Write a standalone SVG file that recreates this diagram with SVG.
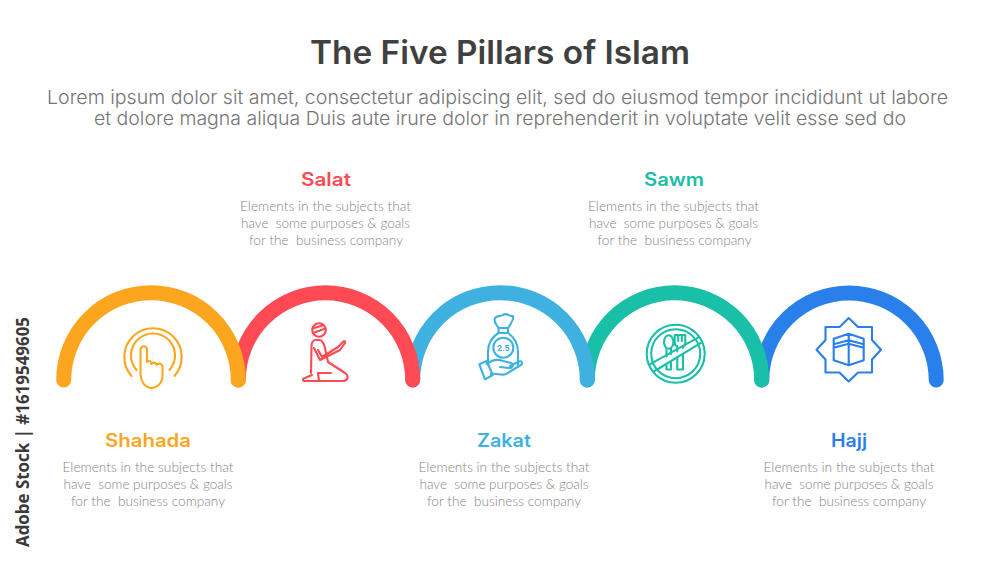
<svg xmlns="http://www.w3.org/2000/svg" width="1000" height="563" viewBox="0 0 1000 563">
<style>
text{white-space:pre;text-anchor:middle}
.title{font:600 32px Inter,"Liberation Sans",sans-serif;fill:#404040}
.sub{font:300 19px Inter,"Liberation Sans",sans-serif;fill:#757575}
.head{font:600 18px Inter,"Liberation Sans",sans-serif}
.desc{font:300 14px Lato,"Liberation Sans",sans-serif;fill:#858585}
.mark{font:700 18px "Open Sans","Liberation Sans",sans-serif;fill:#3a3a3a}
.arc{fill:none;stroke-width:15;stroke-linecap:round}
.ic{fill:none;stroke-width:2.100;stroke-linecap:round;stroke-linejoin:round}
.c1{stroke:#fca61f}.c2{stroke:#fd4a54}.c3{stroke:#3fb1e1}.c4{stroke:#1abfa8}.c5{stroke:#2980ea}
.f1{fill:#fca61f}.f2{fill:#fd4a54}.f3{fill:#3fb1e1}.f4{fill:#1abfa8}.f5{fill:#2980ea}
</style>
<rect width="1000" height="563" fill="#fff"/>
<g id="header">
<text class="title" x="500" y="64" textLength="380" lengthAdjust="spacingAndGlyphs">The Five Pillars of Islam</text>
<text class="sub" x="497.500" y="104" textLength="901" lengthAdjust="spacingAndGlyphs">Lorem ipsum dolor sit amet, consectetur adipiscing elit, sed do eiusmod tempor incididunt ut labore</text>
<text class="sub" x="500" y="125" textLength="812" lengthAdjust="spacingAndGlyphs">et dolore magna aliqua Duis aute irure dolor in reprehenderit in voluptate velit esse sed do</text>
</g>
<g id="node-hajj">
<path class="arc c5" d="M761.800 380a87.200 87.200 0 0 1 174.400 0"/>
<g class="ic c5">
<path d="M848.700 318L858 327H872V340L881 349.700L872 359.500V372.500H858L848.700 381.500L839.500 372.500H825.500V359.500L816.500 349.700L825.500 340V327H839.500Z"/>
<path d="M833.700 338.700L848.700 333.700L863.700 338.700V360.300L848.700 365.300L833.700 360.300ZM848.700 333.700V365.300M833.700 344.300L848.700 340.300L863.700 344.300M833.700 347.700L848.700 343.700L863.700 347.700"/>
</g>
<text class="head f5" x="849" y="447" textLength="36" lengthAdjust="spacingAndGlyphs">Hajj</text>
<text class="desc" x="849" y="472" textLength="171" lengthAdjust="spacingAndGlyphs">Elements in the subjects that</text>
<text class="desc" x="849" y="489" textLength="169" lengthAdjust="spacingAndGlyphs">have  some purposes &amp; goals</text>
<text class="desc" x="849" y="506" textLength="154" lengthAdjust="spacingAndGlyphs">for the  business company</text>
</g>
<g id="node-sawm">
<path class="arc c4" d="M587.300 380a87.200 87.200 0 0 1 174.400 0"/>
<g class="ic c4">
<circle cx="675.700" cy="353.700" r="29"/>
<circle cx="675.700" cy="353.700" r="24.500"/>
<path d="M649.700 364.300L698 337.700M654.700 371L701.300 342.700"/>
<ellipse cx="668.700" cy="342" rx="4.700" ry="6.700"/>
<path d="M666.500 348.500V356.500M671 348.500V354M666.500 365V369.500H671V362.500"/>
<path d="M674.700 335V343C674.700 345 676 346 677.300 346V351.500M685.300 335V343C685.300 345 684 346 683 346V348M674.700 335H685.300M678.200 335V341M681.800 335V341"/>
<path d="M677.300 358.500V369.500H683V355"/>
</g>
<text class="head f4" x="674" y="186" textLength="60" lengthAdjust="spacingAndGlyphs">Sawm</text>
<text class="desc" x="673.500" y="211" textLength="171" lengthAdjust="spacingAndGlyphs">Elements in the subjects that</text>
<text class="desc" x="673.500" y="228" textLength="169" lengthAdjust="spacingAndGlyphs">have  some purposes &amp; goals</text>
<text class="desc" x="674.500" y="245" textLength="154" lengthAdjust="spacingAndGlyphs">for the  business company</text>
</g>
<g id="node-zakat">
<path class="arc c3" d="M412.700 380a87.200 87.200 0 0 1 174.600 0"/>
<g class="ic c3">
<path d="M498.500 328C497 325 493 322 495 318C497 315 500 317 503 315C506 312 510 317 513 316C514 320 510 325 508 328ZM498.500 328V333H508V328"/>
<path d="M488 365V352C488 343 492 337 498.500 333M508 333C514 337 518 343 518 352V366"/>
<circle cx="503.300" cy="347.700" r="10"/>
<path d="M479.300 364.300L486.700 361L492.700 375L485 379.300Z"/>
<path d="M486.500 364C492 360 498 359 503 361L511 363C514 364 513 368 509 368L500 367M510 366L519 361.500C522 360.500 523 363 521 365L506 374C502 376 497 373 491 374"/>
</g>
<text class="f3" x="503.300" y="350.700" style="font:700 8px Inter,'Liberation Sans',sans-serif">2.5</text>
<text class="head f3" x="504" y="447" textLength="54" lengthAdjust="spacingAndGlyphs">Zakat</text>
<text class="desc" x="504" y="472" textLength="171" lengthAdjust="spacingAndGlyphs">Elements in the subjects that</text>
<text class="desc" x="504" y="489" textLength="169" lengthAdjust="spacingAndGlyphs">have  some purposes &amp; goals</text>
<text class="desc" x="504" y="506" textLength="154" lengthAdjust="spacingAndGlyphs">for the  business company</text>
</g>
<g id="node-salat">
<path class="arc c2" d="M238.300 380a87.200 87.200 0 0 1 174.400 0"/>
<g class="ic c2">
<circle cx="319" cy="330" r="6.800"/>
<path d="M312.800 328.500L323.500 325M313 333L325.500 328.500"/>
<path d="M316 340H319C322 340 323.500 343 324.500 346L328 362L345 373C349 376 348 380 344 381H315L304 381C302 380 303 378 305 378L312 375"/>
<path d="M316 340C313 340 311.500 343 311.500 346L311 373"/>
<path d="M314 348L320 360L340 350L345 343C346 341 343 341 343 342L338 347L322 357L318 350"/>
<path d="M318 373H331M318 373L319 381"/>
</g>
<text class="head f2" x="326" y="186" textLength="50" lengthAdjust="spacingAndGlyphs">Salat</text>
<text class="desc" x="325.500" y="211" textLength="171" lengthAdjust="spacingAndGlyphs">Elements in the subjects that</text>
<text class="desc" x="325.500" y="228" textLength="169" lengthAdjust="spacingAndGlyphs">have  some purposes &amp; goals</text>
<text class="desc" x="326" y="245" textLength="154" lengthAdjust="spacingAndGlyphs">for the  business company</text>
</g>
<g id="node-shahada">
<path class="arc c1" d="M63.700 380a87.200 87.200 0 0 1 174.600 0"/>
<g class="ic c1">
<path d="M131.500 376A28.700 28.700 0 1 1 174.500 376"/>
<path d="M136.500 370A22 22 0 1 1 169.500 370"/>
<path d="M140.500 375V349A3.300 3.300 0 0 1 147 349V362C149 360 151 361 151.500 364C152.500 362 155.500 362 156.500 365C157.500 363 161.500 363 162.500 366V376C162.500 383 157 388 151.500 388C145.500 388 141 382 140.500 375Z"/>
</g>
<text class="head f1" x="148" y="447" textLength="86" lengthAdjust="spacingAndGlyphs">Shahada</text>
<text class="desc" x="148" y="472" textLength="171" lengthAdjust="spacingAndGlyphs">Elements in the subjects that</text>
<text class="desc" x="148" y="489" textLength="169" lengthAdjust="spacingAndGlyphs">have  some purposes &amp; goals</text>
<text class="desc" x="148" y="506" textLength="154" lengthAdjust="spacingAndGlyphs">for the  business company</text>
</g>
<g id="connectors"/>
<text class="mark" transform="translate(29 432) rotate(-90)" textLength="230" lengthAdjust="spacingAndGlyphs">Adobe Stock | #1619549605</text>
</svg>
